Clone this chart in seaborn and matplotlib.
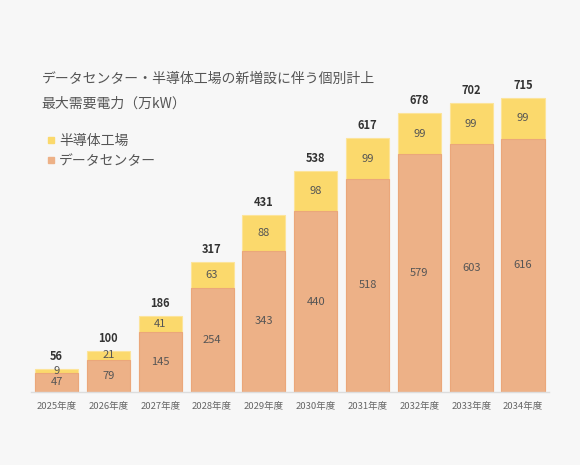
import matplotlib
matplotlib.use("Agg")
import matplotlib.pyplot as plt
import seaborn as sns
import pandas as pd
from matplotlib.lines import Line2D

# data (万kW)
years = ["2025年度", "2026年度", "2027年度", "2028年度", "2029年度",
         "2030年度", "2031年度", "2032年度", "2033年度", "2034年度"]
datacenter = [47, 79, 145, 254, 343, 440, 518, 579, 603, 616]
semicon = [9, 21, 41, 63, 88, 98, 99, 99, 99, 99]
totals = [d + s for d, s in zip(datacenter, semicon)]

title = "データセンター・半導体工場の新増設に伴う個別計上\n最大需要電力（万kW）"
legend_labels = ["半導体工場", "データセンター"]

orange = "#EDB187"
yellow = "#FBD96C"
bg = "#F7F7F7"

sns.set_style("white")
plt.rcParams["font.family"] = ["Noto Sans CJK JP", "DejaVu Sans"]

df = pd.DataFrame({"year": years, "dc": datacenter, "semi": semicon, "total": totals})

fig = plt.figure(figsize=(5.8, 4.65), dpi=100, facecolor=bg)
ax = fig.add_axes([0.0528, 0.157, 0.8936, 0.7075], facecolor=bg)

# stacked look: full totals in yellow, data-center share drawn over it
sns.barplot(data=df, x="year", y="total", color=yellow, saturation=1,
            width=0.83, edgecolor="#FCE49A", linewidth=0.8, ax=ax)
sns.barplot(data=df, x="year", y="dc", color=orange, saturation=1,
            width=0.83, edgecolor="#EBA77A", linewidth=0.8, ax=ax)

ax.set_xlim(-0.5, len(years) - 0.5)
ax.set_ylim(0, 800)

for i, (d, s, t) in enumerate(zip(datacenter, semicon, totals)):
    ax.text(i, d / 2, str(d), ha="center", va="center", fontsize=8, color="#555555")
    ax.text(i, d + s / 2, str(s), ha="center", va="center", fontsize=8, color="#555555")
    ax.annotate(str(t), (i, t), xytext=(0, 9), textcoords="offset points",
                ha="center", va="center", fontsize=8, fontweight="bold", color="#333333")

ax.set_xlabel("")
ax.set_ylabel("")
ax.set_yticks([])
ax.tick_params(axis="x", length=0, labelsize=6.8, labelcolor="#666666", pad=7)
for side in ["top", "right", "left"]:
    ax.spines[side].set_visible(False)
ax.spines["bottom"].set_color("#DDDDDD")
ax.spines["bottom"].set_linewidth(1)

fig.text(0.072, 0.803, title, fontsize=10, color="#555555", va="center",
         linespacing=2.0)

handles = [Line2D([], [], marker="s", linestyle="", markersize=5,
                  markerfacecolor=yellow, markeredgecolor=yellow),
           Line2D([], [], marker="s", linestyle="", markersize=5,
                  markerfacecolor=orange, markeredgecolor=orange)]
fig.legend(handles, legend_labels, loc="upper left", bbox_to_anchor=(0.082, 0.713),
           frameon=False, fontsize=10, labelcolor="#555555", handlelength=0.5,
           handletextpad=0.35, labelspacing=0.45, borderaxespad=0, borderpad=0)

fig.savefig("out.png", dpi=100, facecolor=bg)
